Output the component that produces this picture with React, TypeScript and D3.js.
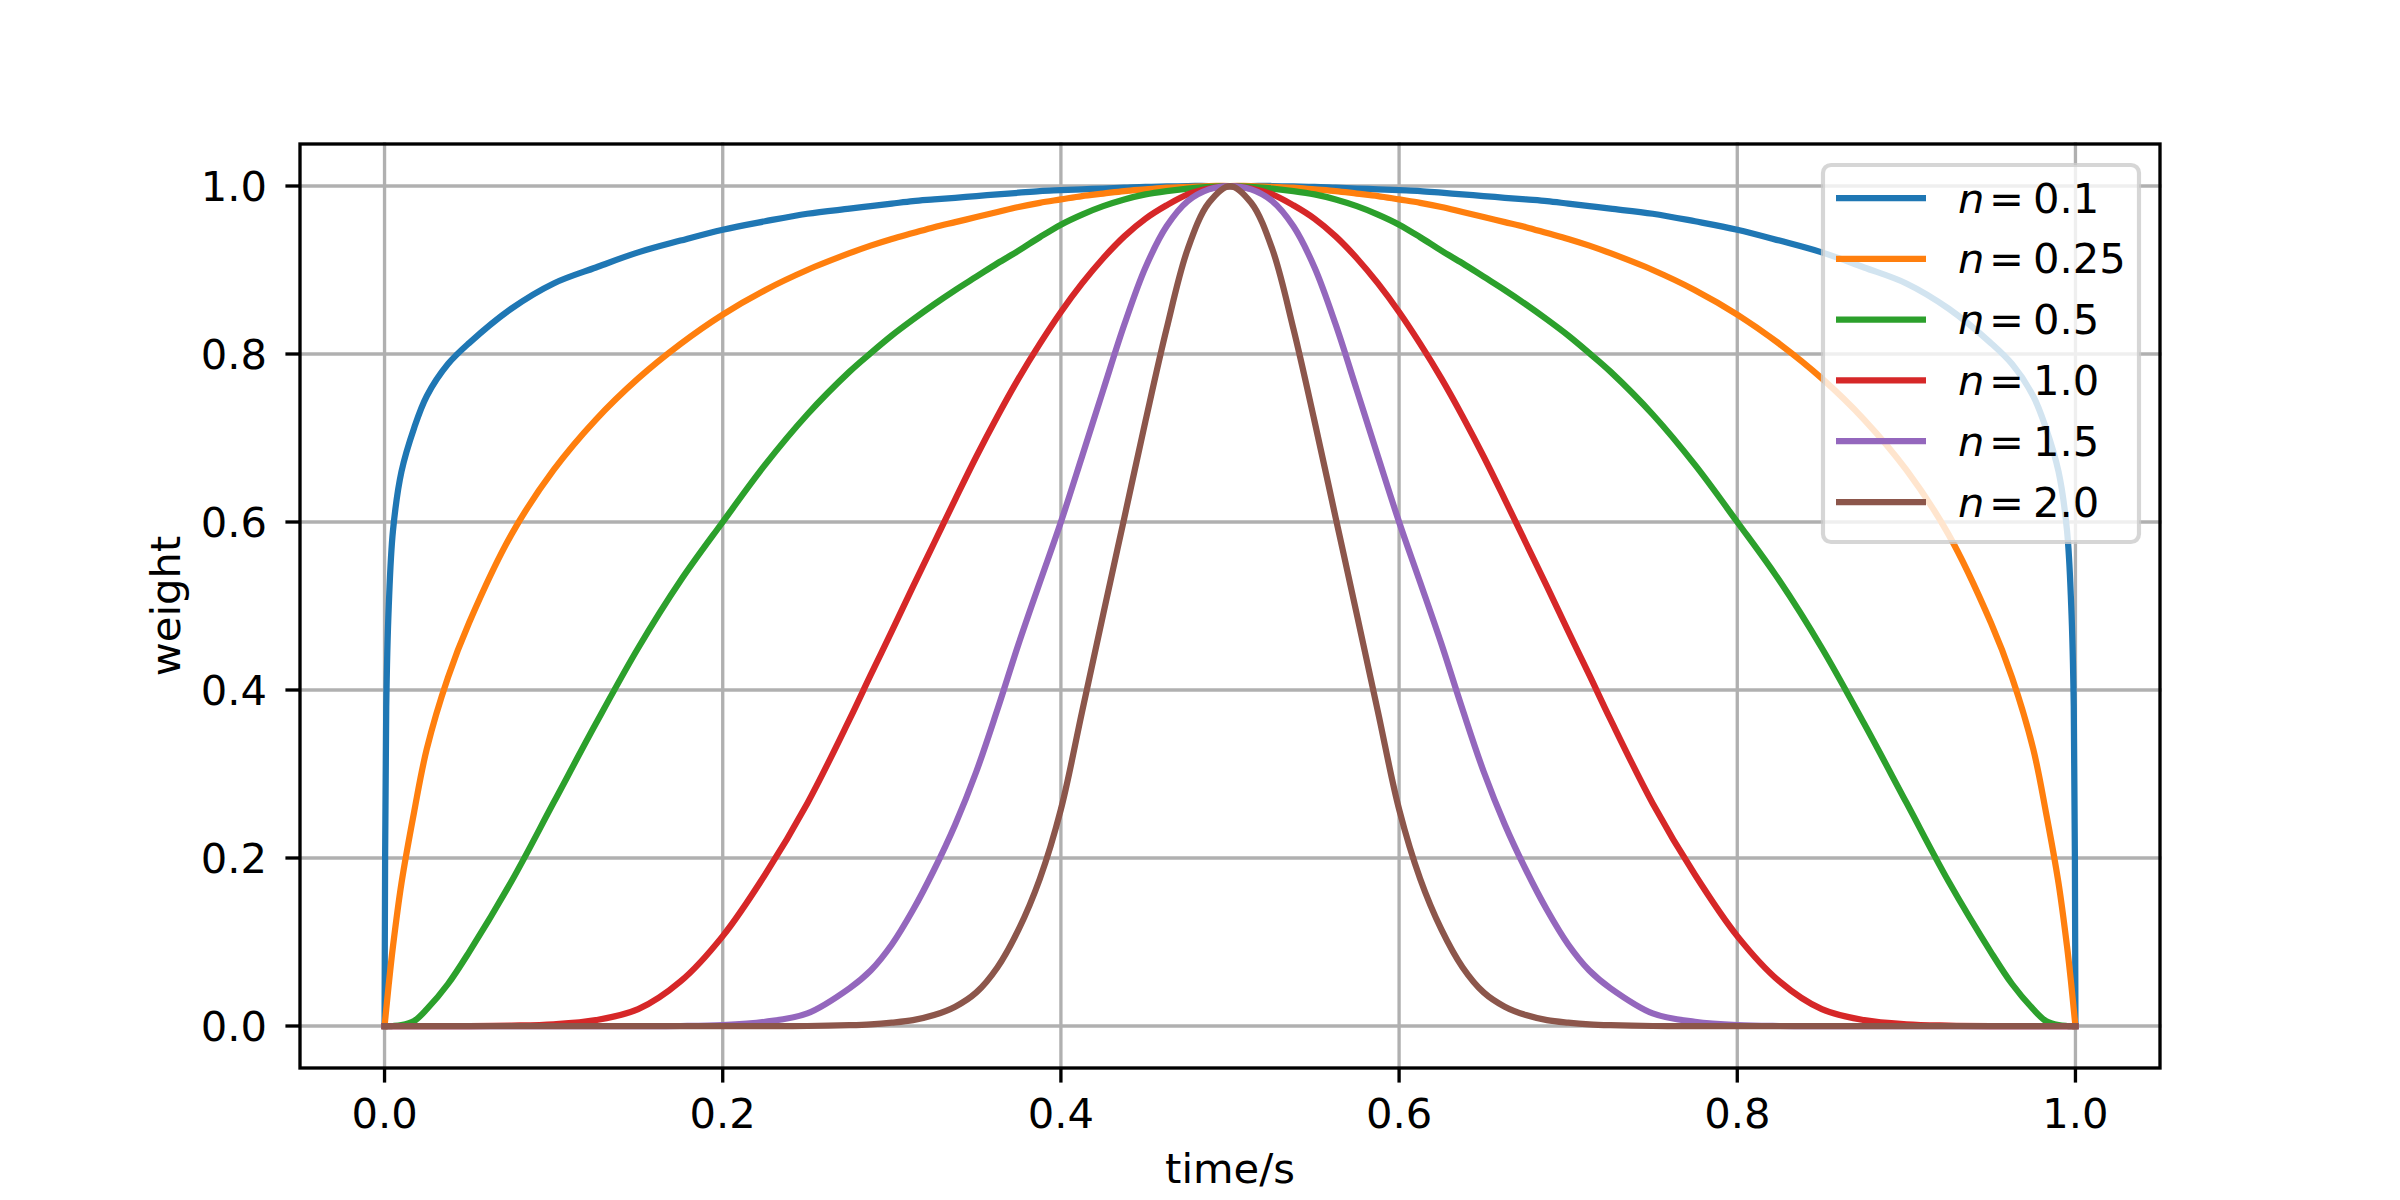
import React from 'react';
import * as d3 from 'd3';

// time samples (dense near the edges and the peak)
const times = [
  0, 0.001, 0.0025, 0.005, 0.01, 0.0175, 0.025, 0.0375, 0.05, 0.075, 0.1, 0.125, 0.15, 0.175, 0.2,
  0.225, 0.25, 0.275, 0.2875, 0.3, 0.3125, 0.325, 0.3375, 0.35, 0.3625, 0.375, 0.3875, 0.4, 0.4125, 0.425,
  0.4375, 0.45, 0.4625, 0.475, 0.4875, 0.5,
  0.5125, 0.525, 0.5375, 0.55, 0.5625, 0.575, 0.5875, 0.6, 0.6125, 0.625, 0.6375, 0.65, 0.6625,
  0.675, 0.6875, 0.7, 0.7125, 0.725, 0.75, 0.775, 0.8, 0.825, 0.85, 0.875, 0.9, 0.925, 0.95, 0.9625, 0.975,
  0.9825, 0.99, 0.995, 0.9975, 0.999, 1.0,
];

const weightN01 = [
  0, 0.38, 0.5, 0.59, 0.66, 0.712, 0.75, 0.788, 0.813, 0.854, 0.884, 0.903, 0.921, 0.935, 0.948,
  0.958, 0.967, 0.973, 0.976, 0.979, 0.982, 0.984, 0.986, 0.988, 0.99, 0.992, 0.994, 0.995, 0.996, 0.997,
  0.998, 0.999, 0.9995, 1.0, 1.0, 1.0,
  1.0, 1.0, 0.9995, 0.999, 0.998, 0.997, 0.996, 0.995, 0.994, 0.992, 0.99, 0.988, 0.986,
  0.984, 0.982, 0.979, 0.976, 0.973, 0.967, 0.958, 0.948, 0.935, 0.921, 0.903, 0.884, 0.854, 0.813, 0.788, 0.75,
  0.712, 0.66, 0.59, 0.5, 0.38, 0,
];

const weightN025 = [
  0, 0.02, 0.05, 0.095, 0.17, 0.255, 0.33, 0.415, 0.48, 0.585, 0.662, 0.722, 0.771, 0.812, 0.847,
  0.876, 0.9, 0.92, 0.929, 0.937, 0.944, 0.951, 0.957, 0.963, 0.969, 0.975, 0.98, 0.984, 0.988, 0.991,
  0.994, 0.996, 0.998, 0.999, 1.0, 1.0,
  1.0, 0.999, 0.998, 0.996, 0.994, 0.991, 0.988, 0.984, 0.98, 0.975, 0.969, 0.963, 0.957,
  0.951, 0.944, 0.937, 0.929, 0.92, 0.9, 0.876, 0.847, 0.812, 0.771, 0.722, 0.662, 0.585, 0.48, 0.415, 0.33,
  0.255, 0.17, 0.095, 0.05, 0.02, 0,
];

const weightN05 = [
  0, 0, 0, 0, 0.001, 0.006, 0.02, 0.05, 0.088, 0.172, 0.266, 0.36, 0.45, 0.53, 0.6,
  0.668, 0.728, 0.779, 0.801, 0.822, 0.841, 0.859, 0.876, 0.892, 0.908, 0.923, 0.939, 0.954, 0.966, 0.976,
  0.984, 0.99, 0.994, 0.997, 0.999, 1.0,
  0.999, 0.997, 0.994, 0.99, 0.984, 0.976, 0.966, 0.954, 0.939, 0.923, 0.908, 0.892, 0.876,
  0.859, 0.841, 0.822, 0.801, 0.779, 0.728, 0.668, 0.6, 0.53, 0.45, 0.36, 0.266, 0.172, 0.088, 0.05, 0.02,
  0.006, 0.001, 0, 0, 0, 0,
];

const weightN10 = [
  0, 0, 0, 0, 0, 0, 0, 0, 0, 0.0005, 0.002, 0.007, 0.02, 0.053, 0.107,
  0.18, 0.265, 0.365, 0.418, 0.47, 0.523, 0.575, 0.627, 0.678, 0.726, 0.771, 0.812, 0.85, 0.884, 0.914,
  0.94, 0.961, 0.977, 0.99, 0.997, 1.0,
  0.997, 0.99, 0.977, 0.961, 0.94, 0.914, 0.884, 0.85, 0.812, 0.771, 0.726, 0.678, 0.627,
  0.575, 0.523, 0.47, 0.418, 0.365, 0.265, 0.18, 0.107, 0.053, 0.02, 0.007, 0.002, 0.0005, 0, 0, 0,
  0, 0, 0, 0, 0, 0,
];

const weightN15 = [
  0, 0, 0, 0, 0, 0, 0, 0, 0, 0, 0, 0, 0, 0, 0.001,
  0.005, 0.015, 0.045, 0.066, 0.097, 0.138, 0.186, 0.24, 0.303, 0.377, 0.455, 0.528, 0.6, 0.678, 0.757,
  0.835, 0.903, 0.952, 0.982, 0.996, 1.0,
  0.996, 0.982, 0.952, 0.903, 0.835, 0.757, 0.678, 0.6, 0.528, 0.455, 0.377, 0.303, 0.24,
  0.186, 0.138, 0.097, 0.066, 0.045, 0.015, 0.005, 0.001, 0, 0, 0, 0, 0, 0, 0, 0,
  0, 0, 0, 0, 0, 0,
];

const weightN20 = [
  0, 0, 0, 0, 0, 0, 0, 0, 0, 0, 0, 0, 0, 0, 0,
  0, 0, 0.001, 0.002, 0.004, 0.007, 0.013, 0.023, 0.04, 0.07, 0.115, 0.175, 0.258, 0.374, 0.49,
  0.605, 0.72, 0.83, 0.925, 0.98, 1.0,
  0.98, 0.925, 0.83, 0.72, 0.605, 0.49, 0.374, 0.258, 0.175, 0.115, 0.07, 0.04, 0.023,
  0.013, 0.007, 0.004, 0.002, 0.001, 0, 0, 0, 0, 0, 0, 0, 0, 0, 0, 0,
  0, 0, 0, 0, 0, 0,
];

const seriesNames = ['0.1', '0.25', '0.5', '1.0', '1.5', '2.0'];
const seriesValues = [weightN01, weightN025, weightN05, weightN10, weightN15, weightN20];
const colors = ['#1f77b4', '#ff7f0e', '#2ca02c', '#d62728', '#9467bd', '#8c564b'];

const xTicks = [0, 0.2, 0.4, 0.6, 0.8, 1.0];
const yTicks = [0, 0.2, 0.4, 0.6, 0.8, 1.0];

// matplotlib 8x4in @ 300dpi
const W = 2400;
const H = 1200;
const margin = { left: 300, right: 240, top: 144, bottom: 132 };
const FONT = '"DejaVu Sans", sans-serif';
const FS = 41.67;
const PT = 300 / 72;

export default function App() {
  const x = d3.scaleLinear().domain([-0.05, 1.05]).range([margin.left, W - margin.right]);
  const y = d3.scaleLinear().domain([-0.05, 1.05]).range([H - margin.bottom, margin.top]);
  const fmt = d3.format('.1f');

  const line = d3.line<[number, number]>()
    .x(d => x(d[0]))
    .y(d => y(d[1]))
    .curve(d3.curveCatmullRom.alpha(0.5));

  const x0 = margin.left, x1 = W - margin.right, y0 = H - margin.bottom, y1 = margin.top;
  const tickLen = 3.5 * PT;
  const lw = 0.8 * PT;

  // legend geometry
  const legLeft = 1823, legTop = 165, legW = 316, legH = 377;
  const rowH = 60.8, row0 = 198;

  return (
    <div style={{ position: 'absolute', left: 0, top: 0 }}>
      <svg width={W} height={H} style={{ display: 'block', background: '#fff' }} fontFamily={FONT}>
        <rect x={0} y={0} width={W} height={H} fill="#fff" />
        {/* grid */}
        <g stroke="#b0b0b0" strokeWidth={lw} strokeLinecap="square">
          {xTicks.map(t => <line key={'gx' + t} x1={x(t)} x2={x(t)} y1={y0} y2={y1} />)}
          {yTicks.map(t => <line key={'gy' + t} x1={x0} x2={x1} y1={y(t)} y2={y(t)} />)}
        </g>
        {/* curves */}
        <g fill="none" strokeWidth={1.5 * PT} strokeLinejoin="round" strokeLinecap="square">
          {seriesValues.map((vals, i) => (
            <path
              key={seriesNames[i]}
              d={line(times.map((t, j) => [t, vals[j]] as [number, number])) || ''}
              stroke={colors[i]}
            />
          ))}
        </g>
        {/* legend */}
        <g>
          <rect
            x={legLeft} y={legTop} width={legW} height={legH} rx={8} ry={8}
            fill="#fff" fillOpacity={0.8} stroke="#cccccc" strokeOpacity={0.8} strokeWidth={PT}
          />
          {seriesNames.map((name, i) => {
            const cy = row0 + i * rowH;
            return (
              <g key={'leg' + name}>
                <line x1={1836} x2={1926} y1={cy} y2={cy} stroke={colors[i]} strokeWidth={1.5 * PT} />
                <text y={cy + 14.6} fontSize={FS} fill="#000">
                  <tspan x={1958} fontStyle="italic">n</tspan>
                  <tspan x={1989}>=</tspan>
                  <tspan x={2033}>{name}</tspan>
                </text>
              </g>
            );
          })}
        </g>
        {/* spines */}
        <rect x={x0} y={y1} width={x1 - x0} height={y0 - y1} fill="none" stroke="#000" strokeWidth={lw} />
        {/* ticks */}
        <g stroke="#000" strokeWidth={lw}>
          {xTicks.map(t => <line key={'tx' + t} x1={x(t)} x2={x(t)} y1={y0} y2={y0 + tickLen} />)}
          {yTicks.map(t => <line key={'ty' + t} x1={x0 - tickLen} x2={x0} y1={y(t)} y2={y(t)} />)}
        </g>
        <g fontSize={FS} fill="#000">
          {xTicks.map(t => (
            <text key={'lx' + t} x={x(t)} y={1128} textAnchor="middle">{fmt(t)}</text>
          ))}
          {yTicks.map(t => (
            <text key={'ly' + t} x={267} y={y(t) + 15} textAnchor="end">{fmt(t)}</text>
          ))}
        </g>
        <text x={(x0 + x1) / 2} y={1183} textAnchor="middle" fontSize={FS}>time/s</text>
        <text transform={`translate(180, ${(y0 + y1) / 2}) rotate(-90)`} textAnchor="middle" fontSize={FS}>weight</text>
      </svg>
    </div>
  );
}
